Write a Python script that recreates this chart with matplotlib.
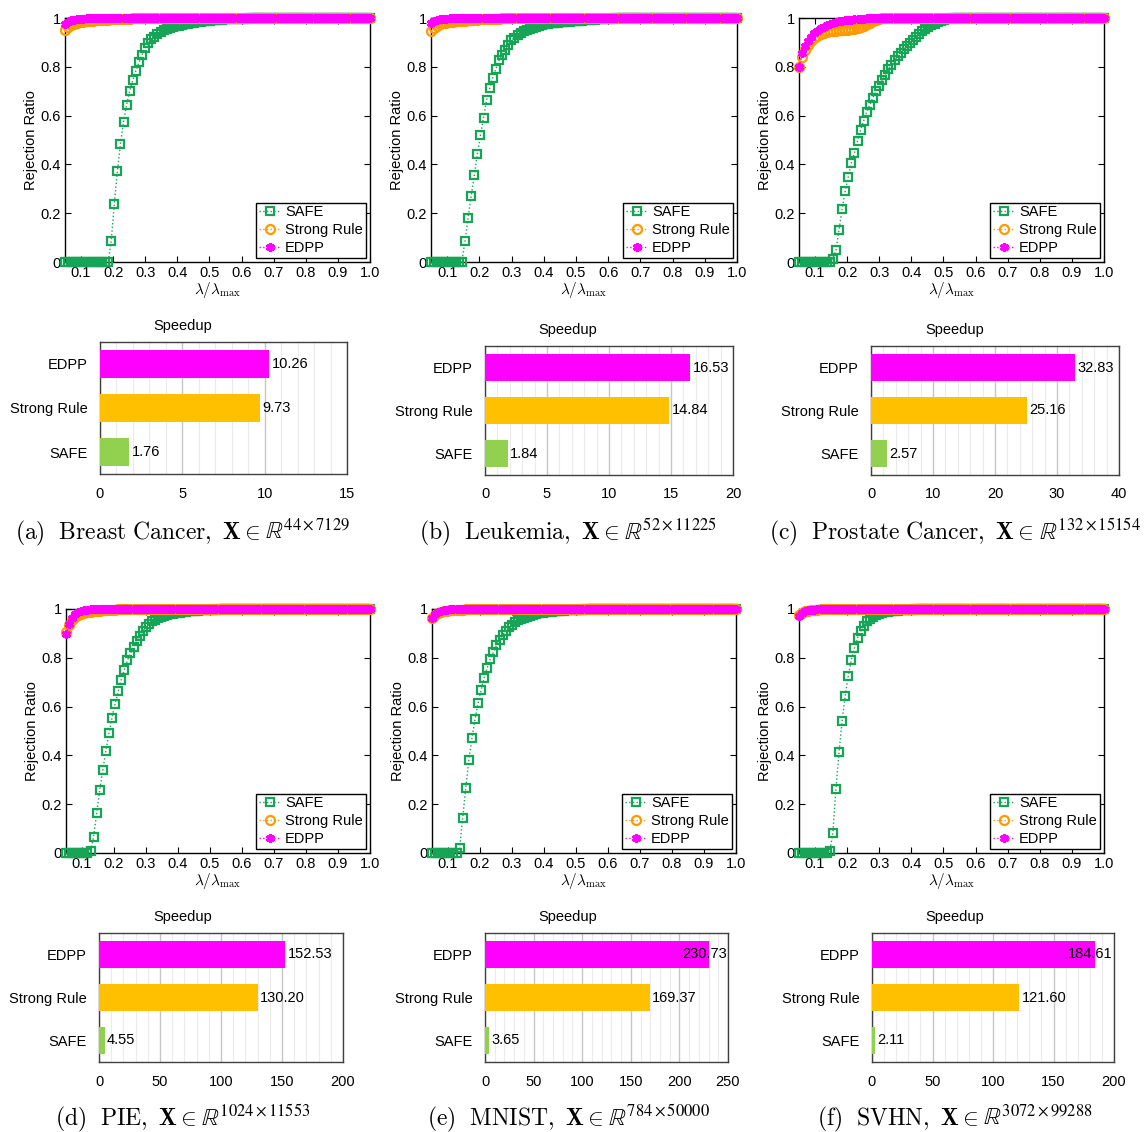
import numpy as np
import matplotlib
matplotlib.use('Agg')
import matplotlib.pyplot as plt
from matplotlib.ticker import MultipleLocator

plt.rcParams['font.family'] = ['Liberation Sans', 'DejaVu Sans']
plt.rcParams['mathtext.fontset'] = 'cm'

# lambda / lambda_max grid: 100 values from 0.05 to 1.0
lam = np.linspace(0.05, 1.0, 100)

x_ticks = [0.1, 0.2, 0.3, 0.4, 0.5, 0.6, 0.7, 0.8, 0.9, 1.0]
x_tick_labels = ['0.1', '0.2', '0.3', '0.4', '0.5', '0.6', '0.7', '0.8', '0.9', '1.0']
y_ticks = [0, 0.2, 0.4, 0.6, 0.8, 1.0]
y_tick_labels = ['0', '0.2', '0.4', '0.6', '0.8', '1']

methods = ['SAFE', 'Strong Rule', 'EDPP']

# ---- rejection ratios ----
safe_a = [0, 0, 0, 0, 0, 0, 0, 0, 0, 0, 0, 0, 0, 0, 0, 0.086, 0.237, 0.371, 0.484, 0.575,
          0.644, 0.701, 0.745, 0.784, 0.818, 0.849, 0.877, 0.897, 0.912, 0.924, 0.934, 0.942, 0.949, 0.954, 0.959, 0.963, 0.966, 0.969, 0.972, 0.975,
          0.977, 0.979, 0.981, 0.983, 0.985, 0.986, 0.988, 0.989, 0.990, 0.991, 0.992, 0.993, 0.994, 0.994, 0.995, 0.995, 0.996, 0.996, 0.997, 0.997,
          0.998, 0.998, 0.998, 0.999, 0.999, 0.999, 1, 1, 1, 1, 1, 1, 1, 1, 1, 1, 1, 1, 1, 1,
          1, 1, 1, 1, 1, 1, 1, 1, 1, 1, 1, 1, 1, 1, 1, 1, 1, 1, 1, 1]
strong_a = [0.949, 0.962, 0.970, 0.976, 0.980, 0.983, 0.985, 0.987, 0.988, 0.989, 0.990, 0.991, 0.992, 0.993, 0.993, 0.994, 0.995, 0.995, 0.996, 0.996,
            0.997, 0.997, 0.998, 0.998, 0.998, 0.999, 0.999, 0.999, 1, 1, 1, 1, 1, 1, 1, 1, 1, 1, 1, 1,
            1, 1, 1, 1, 1, 1, 1, 1, 1, 1, 1, 1, 1, 1, 1, 1, 1, 1, 1, 1,
            1, 1, 1, 1, 1, 1, 1, 1, 1, 1, 1, 1, 1, 1, 1, 1, 1, 1, 1, 1,
            1, 1, 1, 1, 1, 1, 1, 1, 1, 1, 1, 1, 1, 1, 1, 1, 1, 1, 1, 1]
edpp_a = [0.975, 0.985, 0.990, 0.993, 0.995, 0.996, 0.997, 0.998, 0.998, 0.999, 0.999, 1, 1, 1, 1, 1, 1, 1, 1, 1,
          1, 1, 1, 1, 1, 1, 1, 1, 1, 1, 1, 1, 1, 1, 1, 1, 1, 1, 1, 1,
          1, 1, 1, 1, 1, 1, 1, 1, 1, 1, 1, 1, 1, 1, 1, 1, 1, 1, 1, 1,
          1, 1, 1, 1, 1, 1, 1, 1, 1, 1, 1, 1, 1, 1, 1, 1, 1, 1, 1, 1,
          1, 1, 1, 1, 1, 1, 1, 1, 1, 1, 1, 1, 1, 1, 1, 1, 1, 1, 1, 1]

safe_b = [0, 0, 0, 0, 0, 0, 0, 0, 0, 0, 0, 0.086, 0.182, 0.271, 0.355, 0.442, 0.519, 0.592, 0.664, 0.712,
          0.756, 0.792, 0.826, 0.849, 0.867, 0.890, 0.908, 0.920, 0.930, 0.938, 0.945, 0.951, 0.956, 0.960, 0.964, 0.968, 0.971, 0.974, 0.977, 0.979,
          0.980, 0.981, 0.982, 0.983, 0.984, 0.985, 0.986, 0.987, 0.988, 0.989, 0.990, 0.991, 0.992, 0.993, 0.994, 0.995, 0.996, 0.996, 0.997, 0.997,
          0.998, 0.998, 0.999, 0.999, 1, 1, 1, 1, 1, 1, 1, 1, 1, 1, 1, 1, 1, 1, 1, 1,
          1, 1, 1, 1, 1, 1, 1, 1, 1, 1, 1, 1, 1, 1, 1, 1, 1, 1, 1, 1]
strong_b = [0.945, 0.960, 0.968, 0.974, 0.978, 0.981, 0.983, 0.985, 0.986, 0.987, 0.988, 0.989, 0.990, 0.991, 0.992, 0.993, 0.994, 0.994, 0.995, 0.996,
            0.996, 0.997, 0.997, 0.998, 0.998, 0.999, 0.999, 1, 1, 1, 1, 1, 1, 1, 1, 1, 1, 1, 1, 1,
            1, 1, 1, 1, 1, 1, 1, 1, 1, 1, 1, 1, 1, 1, 1, 1, 1, 1, 1, 1,
            1, 1, 1, 1, 1, 1, 1, 1, 1, 1, 1, 1, 1, 1, 1, 1, 1, 1, 1, 1,
            1, 1, 1, 1, 1, 1, 1, 1, 1, 1, 1, 1, 1, 1, 1, 1, 1, 1, 1, 1]
edpp_b = [0.980, 0.988, 0.992, 0.995, 0.996, 0.997, 0.998, 0.999, 0.999, 1, 1, 1, 1, 1, 1, 1, 1, 1, 1, 1,
          1, 1, 1, 1, 1, 1, 1, 1, 1, 1, 1, 1, 1, 1, 1, 1, 1, 1, 1, 1,
          1, 1, 1, 1, 1, 1, 1, 1, 1, 1, 1, 1, 1, 1, 1, 1, 1, 1, 1, 1,
          1, 1, 1, 1, 1, 1, 1, 1, 1, 1, 1, 1, 1, 1, 1, 1, 1, 1, 1, 1,
          1, 1, 1, 1, 1, 1, 1, 1, 1, 1, 1, 1, 1, 1, 1, 1, 1, 1, 1, 1]

safe_c = [0, 0, 0, 0, 0, 0, 0, 0, 0, 0, 0, 0.014, 0.048, 0.133, 0.219, 0.290, 0.349, 0.407, 0.448, 0.496,
          0.541, 0.579, 0.616, 0.644, 0.674, 0.699, 0.723, 0.747, 0.768, 0.789, 0.808, 0.826, 0.843, 0.858, 0.872, 0.886, 0.899, 0.911, 0.923, 0.935,
          0.945, 0.954, 0.962, 0.970, 0.976, 0.982, 0.987, 0.991, 0.995, 0.997, 0.998, 0.999, 1, 1, 1, 1, 1, 1, 1, 1,
          1, 1, 1, 1, 1, 1, 1, 1, 1, 1, 1, 1, 1, 1, 1, 1, 1, 1, 1, 1,
          1, 1, 1, 1, 1, 1, 1, 1, 1, 1, 1, 1, 1, 1, 1, 1, 1, 1, 1, 1]
strong_c = [0.800, 0.840, 0.868, 0.890, 0.905, 0.917, 0.926, 0.933, 0.938, 0.942, 0.945, 0.947, 0.948, 0.949, 0.950, 0.951, 0.952, 0.954, 0.956, 0.959,
            0.963, 0.968, 0.974, 0.980, 0.986, 0.991, 0.995, 0.998, 0.999, 1, 1, 1, 1, 1, 1, 1, 1, 1, 1, 1,
            1, 1, 1, 1, 1, 1, 1, 1, 1, 1, 1, 1, 1, 1, 1, 1, 1, 1, 1, 1,
            1, 1, 1, 1, 1, 1, 1, 1, 1, 1, 1, 1, 1, 1, 1, 1, 1, 1, 1, 1,
            1, 1, 1, 1, 1, 1, 1, 1, 1, 1, 1, 1, 1, 1, 1, 1, 1, 1, 1, 1]
edpp_c = [0.800, 0.855, 0.885, 0.905, 0.922, 0.937, 0.948, 0.957, 0.965, 0.971, 0.976, 0.980, 0.983, 0.986, 0.988, 0.990, 0.992, 0.993, 0.994, 0.995,
          0.996, 0.997, 0.998, 0.998, 0.999, 0.999, 1, 1, 1, 1, 1, 1, 1, 1, 1, 1, 1, 1, 1, 1,
          1, 1, 1, 1, 1, 1, 1, 1, 1, 1, 1, 1, 1, 1, 1, 1, 1, 1, 1, 1,
          1, 1, 1, 1, 1, 1, 1, 1, 1, 1, 1, 1, 1, 1, 1, 1, 1, 1, 1, 1,
          1, 1, 1, 1, 1, 1, 1, 1, 1, 1, 1, 1, 1, 1, 1, 1, 1, 1, 1, 1]

safe_d = [0, 0, 0, 0, 0, 0, 0, 0, 0.007, 0.067, 0.164, 0.258, 0.342, 0.419, 0.490, 0.555, 0.612, 0.662, 0.710, 0.751,
          0.789, 0.819, 0.844, 0.867, 0.888, 0.908, 0.925, 0.938, 0.949, 0.956, 0.962, 0.967, 0.971, 0.975, 0.978, 0.981, 0.983, 0.985, 0.987, 0.988,
          0.990, 0.991, 0.992, 0.993, 0.994, 0.995, 0.996, 0.996, 0.997, 0.997, 0.998, 0.998, 0.999, 0.999, 1, 1, 1, 1, 1, 1,
          1, 1, 1, 1, 1, 1, 1, 1, 1, 1, 1, 1, 1, 1, 1, 1, 1, 1, 1, 1,
          1, 1, 1, 1, 1, 1, 1, 1, 1, 1, 1, 1, 1, 1, 1, 1, 1, 1, 1, 1]
strong_d = [0.904, 0.935, 0.955, 0.967, 0.975, 0.980, 0.984, 0.987, 0.989, 0.991, 0.992, 0.993, 0.994, 0.995, 0.996, 0.997, 0.997, 0.998, 0.998, 0.999,
            0.999, 1, 1, 1, 1, 1, 1, 1, 1, 1, 1, 1, 1, 1, 1, 1, 1, 1, 1, 1,
            1, 1, 1, 1, 1, 1, 1, 1, 1, 1, 1, 1, 1, 1, 1, 1, 1, 1, 1, 1,
            1, 1, 1, 1, 1, 1, 1, 1, 1, 1, 1, 1, 1, 1, 1, 1, 1, 1, 1, 1,
            1, 1, 1, 1, 1, 1, 1, 1, 1, 1, 1, 1, 1, 1, 1, 1, 1, 1, 1, 1]
edpp_d = [0.897, 0.938, 0.965, 0.980, 0.988, 0.993, 0.995, 0.997, 0.998, 0.999, 0.999, 1, 1, 1, 1, 1, 1, 1, 1, 1,
          1, 1, 1, 1, 1, 1, 1, 1, 1, 1, 1, 1, 1, 1, 1, 1, 1, 1, 1, 1,
          1, 1, 1, 1, 1, 1, 1, 1, 1, 1, 1, 1, 1, 1, 1, 1, 1, 1, 1, 1,
          1, 1, 1, 1, 1, 1, 1, 1, 1, 1, 1, 1, 1, 1, 1, 1, 1, 1, 1, 1,
          1, 1, 1, 1, 1, 1, 1, 1, 1, 1, 1, 1, 1, 1, 1, 1, 1, 1, 1, 1]

safe_e = [0, 0, 0, 0, 0, 0, 0, 0, 0, 0.020, 0.144, 0.268, 0.381, 0.470, 0.548, 0.614, 0.668, 0.719, 0.760, 0.795,
          0.823, 0.851, 0.874, 0.892, 0.911, 0.925, 0.936, 0.945, 0.953, 0.959, 0.964, 0.969, 0.973, 0.976, 0.979, 0.982, 0.984, 0.986, 0.988, 0.989,
          0.990, 0.991, 0.992, 0.993, 0.994, 0.995, 0.996, 0.996, 0.997, 0.997, 0.998, 0.998, 0.999, 0.999, 1, 1, 1, 1, 1, 1,
          1, 1, 1, 1, 1, 1, 1, 1, 1, 1, 1, 1, 1, 1, 1, 1, 1, 1, 1, 1,
          1, 1, 1, 1, 1, 1, 1, 1, 1, 1, 1, 1, 1, 1, 1, 1, 1, 1, 1, 1]
strong_e = [0.963, 0.975, 0.982, 0.987, 0.990, 0.992, 0.994, 0.995, 0.996, 0.997, 0.997, 0.998, 0.998, 0.999, 0.999, 1, 1, 1, 1, 1,
            1, 1, 1, 1, 1, 1, 1, 1, 1, 1, 1, 1, 1, 1, 1, 1, 1, 1, 1, 1,
            1, 1, 1, 1, 1, 1, 1, 1, 1, 1, 1, 1, 1, 1, 1, 1, 1, 1, 1, 1,
            1, 1, 1, 1, 1, 1, 1, 1, 1, 1, 1, 1, 1, 1, 1, 1, 1, 1, 1, 1,
            1, 1, 1, 1, 1, 1, 1, 1, 1, 1, 1, 1, 1, 1, 1, 1, 1, 1, 1, 1]
edpp_e = [0.965, 0.980, 0.988, 0.993, 0.996, 0.997, 0.998, 0.999, 0.999, 1, 1, 1, 1, 1, 1, 1, 1, 1, 1, 1,
          1, 1, 1, 1, 1, 1, 1, 1, 1, 1, 1, 1, 1, 1, 1, 1, 1, 1, 1, 1,
          1, 1, 1, 1, 1, 1, 1, 1, 1, 1, 1, 1, 1, 1, 1, 1, 1, 1, 1, 1,
          1, 1, 1, 1, 1, 1, 1, 1, 1, 1, 1, 1, 1, 1, 1, 1, 1, 1, 1, 1,
          1, 1, 1, 1, 1, 1, 1, 1, 1, 1, 1, 1, 1, 1, 1, 1, 1, 1, 1, 1]

safe_f = [0, 0, 0, 0, 0, 0, 0, 0, 0, 0, 0.008, 0.084, 0.264, 0.415, 0.541, 0.644, 0.726, 0.792, 0.840, 0.881,
          0.908, 0.932, 0.949, 0.960, 0.968, 0.974, 0.979, 0.983, 0.986, 0.988, 0.990, 0.992, 0.993, 0.994, 0.995, 0.996, 0.997, 0.997, 0.998, 0.998,
          0.999, 0.999, 1, 1, 1, 1, 1, 1, 1, 1, 1, 1, 1, 1, 1, 1, 1, 1, 1, 1,
          1, 1, 1, 1, 1, 1, 1, 1, 1, 1, 1, 1, 1, 1, 1, 1, 1, 1, 1, 1,
          1, 1, 1, 1, 1, 1, 1, 1, 1, 1, 1, 1, 1, 1, 1, 1, 1, 1, 1, 1]
strong_f = [0.977, 0.985, 0.990, 0.993, 0.995, 0.996, 0.997, 0.998, 0.998, 0.999, 0.999, 1, 1, 1, 1, 1, 1, 1, 1, 1,
            1, 1, 1, 1, 1, 1, 1, 1, 1, 1, 1, 1, 1, 1, 1, 1, 1, 1, 1, 1,
            1, 1, 1, 1, 1, 1, 1, 1, 1, 1, 1, 1, 1, 1, 1, 1, 1, 1, 1, 1,
            1, 1, 1, 1, 1, 1, 1, 1, 1, 1, 1, 1, 1, 1, 1, 1, 1, 1, 1, 1,
            1, 1, 1, 1, 1, 1, 1, 1, 1, 1, 1, 1, 1, 1, 1, 1, 1, 1, 1, 1]
edpp_f = [0.970, 0.984, 0.991, 0.994, 0.996, 0.997, 0.998, 0.999, 0.999, 1, 1, 1, 1, 1, 1, 1, 1, 1, 1, 1,
          1, 1, 1, 1, 1, 1, 1, 1, 1, 1, 1, 1, 1, 1, 1, 1, 1, 1, 1, 1,
          1, 1, 1, 1, 1, 1, 1, 1, 1, 1, 1, 1, 1, 1, 1, 1, 1, 1, 1, 1,
          1, 1, 1, 1, 1, 1, 1, 1, 1, 1, 1, 1, 1, 1, 1, 1, 1, 1, 1, 1,
          1, 1, 1, 1, 1, 1, 1, 1, 1, 1, 1, 1, 1, 1, 1, 1, 1, 1, 1, 1]

# ---- speedup (SAFE, Strong Rule, EDPP) ----
speed_a = [1.76, 9.73, 10.26]
speed_b = [1.84, 14.84, 16.53]
speed_c = [2.57, 25.16, 32.83]
speed_d = [4.55, 130.20, 152.53]
speed_e = [3.65, 169.37, 230.73]
speed_f = [2.11, 121.60, 184.61]

# captions: dataset name and size of X
cap_tags = ['a', 'b', 'c', 'd', 'e', 'f']
cap_names = ['Breast Cancer', 'Leukemia', 'Prostate Cancer', 'PIE', 'MNIST', 'SVHN']
cap_dims = ['44\\times 7129', '52\\times 11225', '132\\times 15154',
            '1024\\times 11553', '784\\times 50000', '3072\\times 99288']

c_safe = '#17a456'
c_strong = '#ff9a00'
c_edpp = '#ff00ff'
bar_colors = ['#92d050', '#ffc000', '#ff00ff']

W, H = 1145, 1132
fig = plt.figure(figsize=(W / 100, H / 100), dpi=100)


def px_axes(l, t, r, b):
    return fig.add_axes([l / W, 1 - b / H, (r - l) / W, (b - t) / H])


def draw_ratio(ax, safe, strong, edpp):
    ax.plot(lam, safe, ':', color=c_safe, lw=1, marker='s', ms=6, mfc='none', mew=1.6,
            label='SAFE', clip_on=False, zorder=3)
    ax.plot(lam, strong, ':', color=c_strong, lw=1, marker='o', ms=6.5, mfc='none', mew=1.6,
            label='Strong Rule', clip_on=False, zorder=4)
    ax.plot(lam, edpp, ':', color=c_edpp, lw=1, marker=(6, 2, 0), ms=6.5, mew=2.2,
            label='EDPP', clip_on=False, zorder=5)
    ax.set_xlim(0.05, 1.0)
    ax.set_ylim(0, 1)
    ax.set_xticks(x_ticks)
    ax.set_xticklabels(x_tick_labels)
    ax.set_yticks(y_ticks)
    ax.set_yticklabels(y_tick_labels)
    ax.tick_params(direction='in', top=True, right=True, length=4, width=0.8,
                   labelsize=10.5, pad=3)
    for s in ax.spines.values():
        s.set_linewidth(1)
    ax.set_xlabel(r'$\lambda/\lambda_{\max}$', fontsize=11, labelpad=0)
    ax.set_ylabel('Rejection Ratio', fontsize=10.5, labelpad=2)
    leg = ax.legend(loc='lower right', fontsize=10.5, fancybox=False, edgecolor='black',
                    framealpha=1, borderpad=0.2, labelspacing=0.25, handlelength=1.5,
                    handletextpad=0.3, borderaxespad=0.3)
    leg.get_frame().set_linewidth(1)


def draw_speed(ax, vals, xmax, major, minor):
    ax.barh(range(3), vals, height=0.64, color=bar_colors, zorder=3)
    ax.set_xlim(0, xmax)
    ax.set_ylim(-0.5, 2.5)
    ax.xaxis.set_major_locator(MultipleLocator(major))
    ax.xaxis.set_minor_locator(MultipleLocator(minor))
    ax.grid(which='major', axis='x', color='#c6c6c6', lw=1, zorder=0)
    ax.grid(which='minor', axis='x', color='#ebebeb', lw=0.8, zorder=0)
    ax.set_axisbelow(True)
    ax.set_yticks(range(3))
    ax.set_yticklabels(methods)
    ax.tick_params(which='both', length=0, labelsize=10.5)
    ax.tick_params(axis='y', pad=9)
    ax.tick_params(axis='x', pad=9)
    for s in ax.spines.values():
        s.set_color('#404040')
        s.set_linewidth(1)
    texts = []
    for i, v in enumerate(vals):
        t = ax.text(v + xmax * 0.01, i, '%.2f' % v, va='center', ha='left',
                    fontsize=10.5, zorder=4)
        texts.append(t)
    return texts


ratio_boxes = [(65, 18, 370, 262), (431, 18, 737, 262), (799, 18, 1104, 262),
               (66, 609, 370, 853), (432, 609, 736, 853), (799, 609, 1104, 853)]
bar_boxes = [(100, 342, 347, 474), (485, 346, 733, 475), (871, 346, 1119, 475),
             (99, 933, 343, 1062), (485, 933, 728, 1062), (872, 933, 1114, 1062)]
col_centers = [183, 568, 955, 183, 568, 955]
speed_title_y = [326, 330, 330, 917, 917, 917]
caption_y = [539, 539, 539, 1125, 1125, 1125]

ratio_data = [(safe_a, strong_a, edpp_a), (safe_b, strong_b, edpp_b), (safe_c, strong_c, edpp_c),
              (safe_d, strong_d, edpp_d), (safe_e, strong_e, edpp_e), (safe_f, strong_f, edpp_f)]
speed_data = [speed_a, speed_b, speed_c, speed_d, speed_e, speed_f]
speed_axis = [(15, 5, 1), (20, 5, 1), (40, 10, 2), (200, 50, 10), (250, 50, 10), (200, 50, 10)]

all_texts = []
cap_parts = []
for k in range(6):
    ax = px_axes(*ratio_boxes[k])
    draw_ratio(ax, *ratio_data[k])

    bx = px_axes(*bar_boxes[k])
    xmax, major, minor = speed_axis[k]
    all_texts.append((bx, xmax, draw_speed(bx, speed_data[k], xmax, major, minor)))

    fig.text(col_centers[k] / W, 1 - speed_title_y[k] / H, 'Speedup', ha='center',
             va='center', fontsize=10.5)

    # caption in two pieces: Computer Modern text, then the blackboard R from STIX
    name = cap_names[k].replace(' ', '\\ ')
    part1 = r'$\mathrm{(%s)\ \ %s,}\ \mathbf{X}\in$' % (cap_tags[k], name)
    part2 = r'$\mathbb{R}^{%s}$' % cap_dims[k]
    y = 1 - caption_y[k] / H
    t1 = fig.text(0, y, part1, ha='left', va='baseline', fontsize=17)
    t2 = fig.text(0, y, part2, ha='left', va='baseline', fontsize=17,
                  math_fontfamily='stix')
    cap_parts.append((col_centers[k], t1, t2))

fig.canvas.draw()
renderer = fig.canvas.get_renderer()

# value labels that would run past the frame are pulled inside it
for bx, xmax, texts in all_texts:
    for t in texts:
        if t.get_window_extent(renderer).x1 > bx.bbox.x1:
            t.set_ha('right')
            t.set_x(xmax * 0.995)

# centre each two-piece caption on its column, with a small gap after the "in" sign
gap = 5
for cx, t1, t2 in cap_parts:
    w1 = t1.get_window_extent(renderer).width
    w2 = t2.get_window_extent(renderer).width
    x0 = cx - (w1 + gap + w2) / 2
    t1.set_x(x0 / W)
    t2.set_x((x0 + w1 + gap) / W)

fig.savefig('out.png', dpi=100)
